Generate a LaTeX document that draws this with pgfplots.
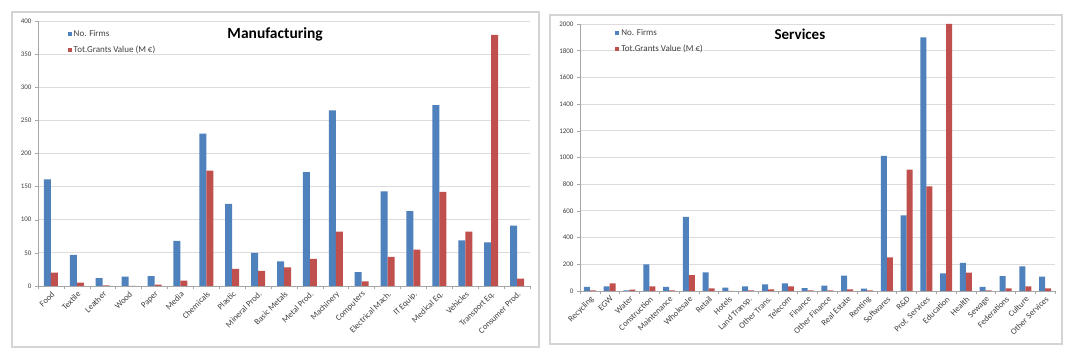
\documentclass[border=0pt]{standalone}
\usepackage{fontspec}
\setmainfont{Carlito}
\usepackage{pgfplots}
\pgfplotsset{compat=1.18}
\definecolor{xblue}{HTML}{4F81BD}
\definecolor{xred}{HTML}{C0504D}
\definecolor{gridc}{HTML}{DCDCDC}
\definecolor{axc}{HTML}{A6A6A6}
\definecolor{framec}{HTML}{D4D4D4}
\definecolor{txt}{HTML}{404040}
\pgfplotsset{
  excel/.style={
    scale only axis,
    axis x line*=bottom, axis y line*=left,
    axis line style={draw=axc, line width=0.6pt},
    ybar=0pt,
    ymin=0,
    ymajorgrids, grid style={draw=gridc, line width=0.8pt},
    major x tick style={draw=none},
    minor x tick style={draw=axc, line width=0.5pt},
    y tick style={draw=axc, line width=0.5pt},
    tick align=outside,
    major tick length=3pt, minor tick length=3pt,
    yticklabel style={font=\fontsize{7}{8}\selectfont, text=txt},
    xticklabel style={font=\fontsize{8.5}{9}\selectfont, text=txt, rotate=45, anchor=north east, inner sep=1pt},
    scaled y ticks=false,
    /pgf/number format/assume math mode=true,
    /pgf/number format/1000 sep={},
    legend cell align=left,
    legend style={draw=none, fill=none, font=\fontsize{9}{10}\selectfont, text=txt, row sep=4pt, inner sep=0pt, anchor=north west},
    legend image code/.code={\fill[#1] (0pt,-2pt) rectangle (4pt,2pt);},
  }
}
\begin{document}
\begin{tikzpicture}
\useasboundingbox (0,0) rectangle (1074pt,356pt);
\fill[white] (0,0) rectangle (1074pt,356pt);
\draw[framec, line width=1.1pt] (12pt,9pt) rectangle (539pt,344pt);
\draw[framec, line width=1.1pt] (550pt,12pt) rectangle (1062pt,341pt);
\begin{axis}[excel,
  at={(38pt,70pt)}, anchor=south west,
  width=492pt, height=265pt,
  bar width=7pt,
  xmin=-0.5, xmax=18.5, ymax=400,
  ytick={0,50,...,400},
  xtick={0,...,18},
  minor xtick={-0.5,0.5,...,18.5},
  xticklabels={Food,Textile,Leather,Wood,Paper,Media,Chemicals,Plastic,Mineral Prod.,Basic Metals,Metal Prod.,Machinery,Computers,Electrical Mach.,IT Equip.,Medical Eq.,Vehicles,Transport Eq.,Consumer Prod.},
  title={Manufacturing},
  title style={at={(rel axis cs:0.482,0.925)}, anchor=center, font=\bfseries\fontsize{15.5}{16}\selectfont, text=black},
  legend style={at={(rel axis cs:0.06,0.975)}},
]
\addplot[fill=xblue, draw=none] coordinates {(0,161) (1,47) (2,12) (3,14) (4,15) (5,68) (6,230) (7,124) (8,50) (9,37) (10,172) (11,265) (12,21) (13,143) (14,113) (15,273) (16,69) (17,66) (18,91)};
\addplot[fill=xred, draw=none] coordinates {(0,20) (1,5) (2,1) (3,0) (4,2) (5,8) (6,174) (7,26) (8,23) (9,28) (10,41) (11,82) (12,7) (13,44) (14,55) (15,142) (16,82) (17,379) (18,11)};
\legend{No. Firms, Tot.Grants Value (M €)}
\end{axis}
\begin{axis}[excel,
  at={(580pt,65pt)}, anchor=south west,
  width=475pt, height=267pt,
  bar width=6pt,
  xmin=-0.5, xmax=23.5, ymax=2000,
  ytick={0,200,...,2000},
  xtick={0,...,23},
  minor xtick={-0.5,0.5,...,23.5},
  xticklabels={Recycling,EGW,Water,Construction,Maintenance,Wholesale,Retail,Hotels,Land Transp.,Other Trans.,Telecom,Finance,Other Finance,Real Estate,Renting,Softwares,R\&D,Prof. Services,Education,Health,Sewage,Federations,Culture,Other Services},
  title={Services},
  title style={at={(rel axis cs:0.463,0.94)}, anchor=center, font=\bfseries\fontsize{15}{15}\selectfont, text=black},
  legend style={at={(rel axis cs:0.074,0.99)}},
]
\addplot[fill=xblue, draw=none] coordinates {(0,30) (1,35) (2,5) (3,200) (4,30) (5,556) (6,140) (7,25) (8,35) (9,50) (10,57) (11,22) (12,40) (13,115) (14,17) (15,1012) (16,566) (17,1900) (18,132) (19,210) (20,30) (21,112) (22,185) (23,107)};
\addplot[fill=xred, draw=none] coordinates {(0,5) (1,58) (2,10) (3,35) (4,5) (5,118) (6,20) (7,0) (8,5) (9,12) (10,35) (11,5) (12,5) (13,12) (14,5) (15,251) (16,909) (17,783) (18,2000) (19,137) (20,5) (21,20) (22,35) (23,20)};
\legend{No. Firms, Tot.Grants Value (M €)}
\end{axis}
\end{tikzpicture}
\end{document}
